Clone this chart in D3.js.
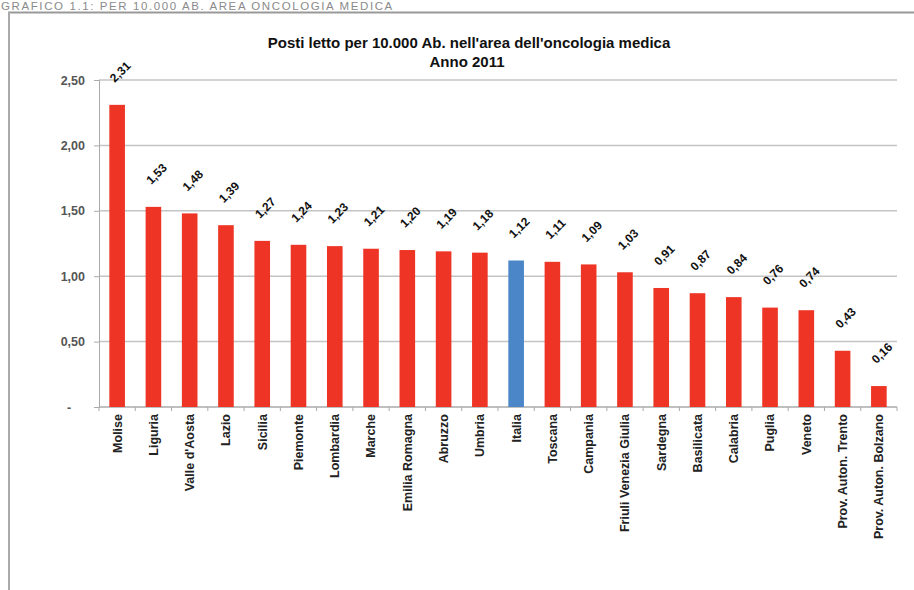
<!DOCTYPE html>
<html lang="it">
<head>
    <meta charset="UTF-8">
    <title>Posti letto per 10.000 Ab. - oncologia medica</title>
    <script src="https://d3js.org/d3.v7.min.js"></script>
    <style>
        body {
            margin: 0;
            background: white;
            font-family: "Liberation Sans", Arial, sans-serif;
        }
        svg { display: block; }
        .grid line { stroke: #c4c4c4; stroke-width: 1.5; }
        .ylab { font-size: 12.5px; fill: #555; font-weight: bold; }
        .xlab { font-size: 12.5px; fill: #222; font-weight: bold; }
        .val { font-size: 12px; fill: #111; font-weight: bold; }
        .title { font-size: 15px; font-weight: bold; fill: #111; }
    </style>
</head>
<body>
    <svg width="914" height="590"></svg>
    <script>
        const regions = [
            "Molise", "Liguria", "Valle d'Aosta", "Lazio", "Sicilia", "Piemonte",
            "Lombardia", "Marche", "Emilia Romagna", "Abruzzo", "Umbria", "Italia",
            "Toscana", "Campania", "Friuli Venezia Giulia", "Sardegna", "Basilicata",
            "Calabria", "Puglia", "Veneto", "Prov. Auton. Trento", "Prov. Auton. Bolzano"
        ];
        const beds = [
            2.31, 1.53, 1.48, 1.39, 1.27, 1.24, 1.23, 1.21, 1.20, 1.19, 1.18, 1.12,
            1.11, 1.09, 1.03, 0.91, 0.87, 0.84, 0.76, 0.74, 0.43, 0.16
        ];
        const yTicks = [0, 0.5, 1, 1.5, 2, 2.5];
        const highlight = "Italia";

        const data = regions.map((r, i) => ({ region: r, value: beds[i] }));
        const svg = d3.select("svg");
        const comma = v => d3.format(".2f")(v).replace(".", ",");

        // page caption above the frame
        svg.append("text")
            .attr("x", 1)
            .attr("y", 10)
            .attr("font-size", 11.5)
            .attr("letter-spacing", 1.6)
            .attr("fill", "#8a8a8a")
            .text("GRAFICO 1.1: PER 10.000 AB. AREA ONCOLOGIA MEDICA");

        // frame of the picture
        svg.append("line").attr("x1", 8).attr("x2", 914).attr("y1", 12.5).attr("y2", 12.5)
            .attr("stroke", "#999").attr("stroke-width", 2);
        svg.append("line").attr("x1", 9).attr("x2", 9).attr("y1", 12).attr("y2", 590)
            .attr("stroke", "#aaa").attr("stroke-width", 2);

        const x = d3.scaleBand()
            .domain(regions)
            .range([99, 897])
            .padding(0);

        const y = d3.scaleLinear()
            .domain([0, 2.5])
            .range([407, 80]);

        // gridlines
        svg.append("g")
            .attr("class", "grid")
            .selectAll("line")
            .data(yTicks.filter(t => t > 0))
            .enter()
            .append("line")
            .attr("x1", 99)
            .attr("x2", 897)
            .attr("y1", d => y(d))
            .attr("y2", d => y(d));

        // y axis
        const yAxis = svg.append("g")
            .attr("transform", "translate(99,0)")
            .call(d3.axisLeft(y).tickValues(yTicks).tickSize(5).tickFormat(d => d === 0 ? "-" : comma(d)));
        yAxis.select(".domain").attr("stroke", "#aaa");
        yAxis.selectAll(".tick line").attr("stroke", "#aaa");
        yAxis.selectAll(".tick text")
            .attr("class", "ylab")
            .attr("x", d => d === 0 ? -30 : -14)
            .attr("text-anchor", d => d === 0 ? "middle" : "end");

        // x axis (ticks between categories)
        const xAxis = svg.append("g").attr("transform", "translate(0,407)");
        xAxis.append("line").attr("x1", 99).attr("x2", 897)
            .attr("stroke", "#aaa").attr("stroke-width", 1.5);
        xAxis.selectAll(".sep")
            .data(regions.concat(["end"]))
            .enter()
            .append("line")
            .attr("x1", (d, i) => i < regions.length ? x(d) : x.range()[1])
            .attr("x2", (d, i) => i < regions.length ? x(d) : x.range()[1])
            .attr("y1", 0)
            .attr("y2", 4)
            .attr("stroke", "#aaa");

        // bars
        const barW = x.bandwidth() * 0.43;
        svg.selectAll(".bar")
            .data(data)
            .enter()
            .append("rect")
            .attr("x", d => x(d.region) + x.bandwidth() / 2 - barW / 2)
            .attr("y", d => y(d.value))
            .attr("width", barW)
            .attr("height", d => y(0) - y(d.value))
            .attr("fill", d => d.region === highlight ? "#4a86c8" : "#ee3424");

        // value labels
        svg.selectAll(".val")
            .data(data)
            .enter()
            .append("text")
            .attr("class", "val")
            .attr("text-anchor", "middle")
            .attr("transform", d => `translate(${x(d.region) + x.bandwidth() / 2 + 3},${y(d.value) - 33}) rotate(-45)`)
            .attr("dy", "0.35em")
            .text(d => comma(d.value));

        // category labels
        svg.selectAll(".xlab")
            .data(data)
            .enter()
            .append("text")
            .attr("class", "xlab")
            .attr("text-anchor", "end")
            .attr("transform", d => `translate(${x(d.region) + x.bandwidth() / 2},414) rotate(-90)`)
            .attr("dy", "0.35em")
            .text(d => d.region);

        // title
        svg.append("text")
            .attr("class", "title")
            .attr("x", 469)
            .attr("y", 48)
            .attr("text-anchor", "middle")
            .text("Posti letto per 10.000 Ab. nell'area dell'oncologia medica");
        svg.append("text")
            .attr("class", "title")
            .attr("x", 467)
            .attr("y", 67)
            .attr("text-anchor", "middle")
            .text("Anno 2011");
    </script>
</body>
</html>
